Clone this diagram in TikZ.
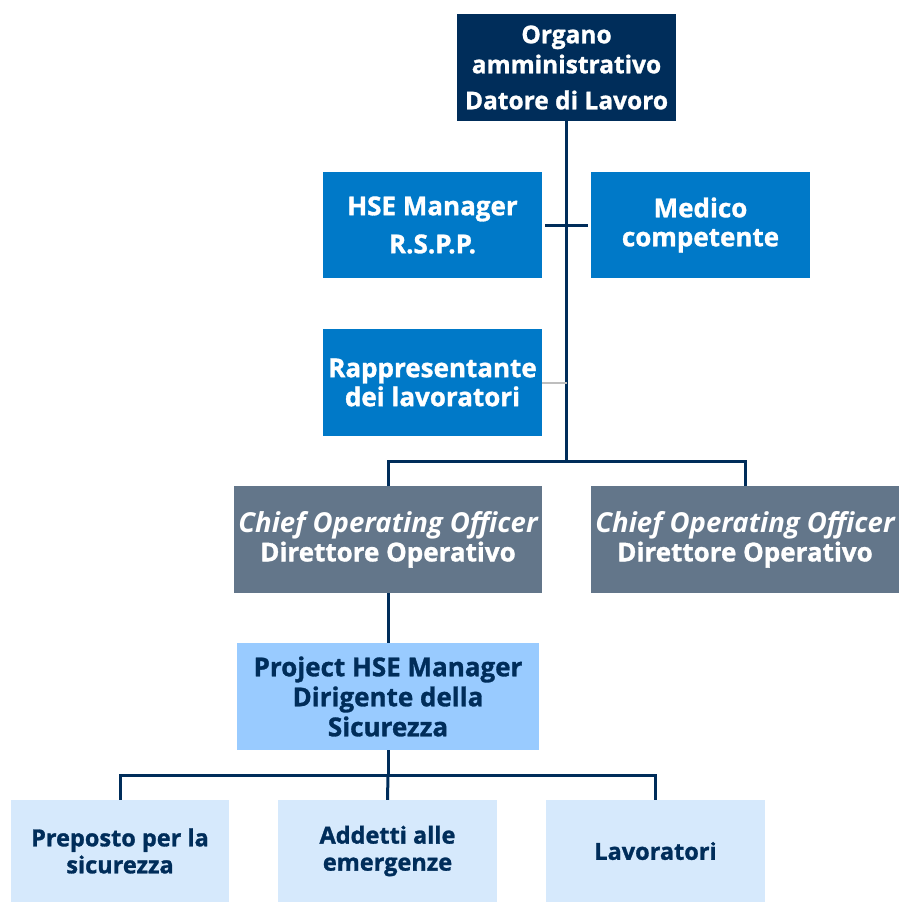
\documentclass[tikz,border=0pt]{standalone}
\usepackage{fontspec}
\setmainfont{Open Sans}[BoldFeatures={FakeBold=1.2}]
\usepackage{xcolor}
\usetikzlibrary{positioning,calc}

\definecolor{navy}{RGB}{0,45,90}
\definecolor{hseblue}{RGB}{0,121,200}
\definecolor{cooslate}{RGB}{99,118,138}
\definecolor{skyblue}{RGB}{153,203,255}
\definecolor{paleblue}{RGB}{214,233,252}
\definecolor{linkgrey}{RGB}{190,190,190}

\newcommand{\cootitle}{{\fontsize{27.5}{29}\selectfont\itshape Chief Operating Officer}}

\begin{document}
\begin{tikzpicture}[
    x=1pt, y=-1pt,
    box/.style={rectangle, inner sep=1pt, align=center, font=\bfseries},
    topbox/.style={box, fill=navy, text=white, minimum width=219pt, minimum height=107pt, font=\bfseries\fontsize{24.5}{30}\selectfont},
    staffbox/.style={box, fill=hseblue, text=white, minimum width=219pt, minimum height=106pt, font=\bfseries\fontsize{26}{29}\selectfont},
    coobox/.style={box, fill=cooslate, text=white, minimum width=308pt, minimum height=107pt, font=\bfseries\fontsize{26}{29}\selectfont},
    projbox/.style={box, fill=skyblue, text=navy, minimum width=302pt, minimum height=107pt, font=\bfseries\fontsize{26}{30}\selectfont},
    leafbox/.style={box, fill=paleblue, text=navy, minimum width=218pt, minimum height=102pt, font=\bfseries\fontsize{23.5}{27}\selectfont},
    link/.style={draw=navy, line width=3pt},
    softlink/.style={draw=linkgrey, line width=2pt}
]
    \useasboundingbox (0,0) rectangle (900,902);

    % vertici
    \node [topbox] (organo) at (566.5,67.5) {Organo\\amministrativo\\[6pt]Datore di Lavoro};
    \node [staffbox] (rspp) at (432.5,225) {HSE Manager\\[9pt]R.S.P.P.};
    \node [staffbox] (medico) at (700.5,225) {Medico\\competente};
    \node [staffbox, minimum height=107pt] (rls) at (432.5,382.5) {Rappresentante\\dei lavoratori};

    % direzione operativa
    \node [coobox] (coo1) at (388,539.5) {\cootitle\\Direttore Operativo};
    \node [coobox] (coo2) at (745,539.5) {\cootitle\\Direttore Operativo};
    \node [projbox] (dirigente) at (388,696.5) {Project HSE Manager\\Dirigente della\\Sicurezza};

    % livello operativo
    \node [leafbox] (preposto) at (120,851) {Preposto per la\\sicurezza};
    \node [leafbox, minimum width=219pt] (addetti) at (387.5,851) {Addetti alle\\emergenze};
    \node [leafbox, minimum width=219pt] (lavoratori) at (655.5,851) {Lavoratori};

    \coordinate (busA) at (566.5,461);
    \coordinate (busB) at (388,775);

    \draw [link] (organo.south) -- (busA);
    \draw [link, shorten <=3pt, shorten >=3pt] (rspp.east) -- (medico.west);
    \draw [softlink] (rls.east) -- (rls.east -| busA);
    \draw [link] (coo1.north) |- (busA) -| (coo2.north);
    \draw [link] (coo1.south) -- (dirigente.north);
    \draw [link] (dirigente.south) -- (busB);
    \draw [link] (preposto.north) |- (busB) -| (lavoratori.north);
    \draw [link] (busB) -- (addetti.north);
\end{tikzpicture}
\end{document}
